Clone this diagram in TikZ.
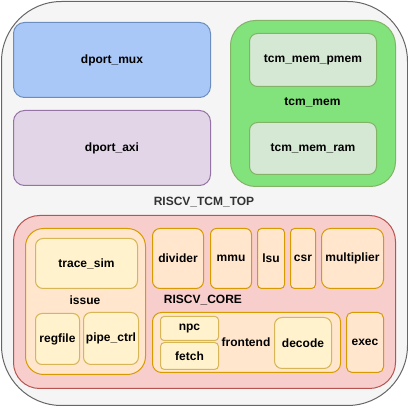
\documentclass[tikz,border=0pt]{standalone}
\usepackage{fontspec}
\setmainfont{Liberation Sans}
\definecolor{topfill}{HTML}{F5F5F5}
\definecolor{topline}{HTML}{666666}
\definecolor{toptext}{HTML}{333333}
\definecolor{muxfill}{HTML}{A9C8F8}
\definecolor{muxline}{HTML}{6C8EBF}
\definecolor{axifill}{HTML}{E1D5E7}
\definecolor{axiline}{HTML}{9673A6}
\definecolor{memfill}{HTML}{82E37C}
\definecolor{memline}{HTML}{82B366}
\definecolor{subfill}{HTML}{D5E8D4}
\definecolor{corefill}{HTML}{F8CECC}
\definecolor{coreline}{HTML}{B85450}
\definecolor{unitfill}{HTML}{FFE6CC}
\definecolor{unitline}{HTML}{D79B00}
\definecolor{leaffill}{HTML}{FFF2CC}
\definecolor{leafline}{HTML}{D6B656}
\tikzset{
  blk/.style={draw, line width=1pt, inner sep=0pt, anchor=north west, text=black,
    font=\fontsize{12}{14}\selectfont\bfseries},
  unit/.style={blk, fill=unitfill, draw=unitline},
  leaf/.style={blk, fill=leaffill, draw=leafline},
  lbl/.style={inner sep=0pt, font=\fontsize{12}{14}\selectfont\bfseries},
}
\begin{document}
\begin{tikzpicture}[x=1pt, y=-1pt]
    \useasboundingbox (0,0) rectangle (408,406);

    % top level wrapper
    \node[blk, fill=topfill, draw=topline, rounded corners=60pt, minimum width=406pt, minimum height=404pt] (top) at (1,1) {};
    \node[lbl, text=toptext] (toplbl) at (204,202) {RISCV\_TCM\_TOP};

    % data port blocks
    \node[blk, fill=muxfill, draw=muxline, rounded corners=11pt, minimum width=197pt, minimum height=75pt] (mux) at (13,22) {dport\_mux};
    \node[blk, fill=axifill, draw=axiline, rounded corners=11pt, minimum width=197pt, minimum height=75pt] (axi) at (13,110) {dport\_axi};

    % tcm memory
    \node[blk, fill=memfill, draw=memline, rounded corners=25pt, minimum width=165pt, minimum height=166pt] (mem) at (230,20) {};
    \node[lbl] (memlbl) at (312.5,102) {tcm\_mem};
    \node[blk, fill=subfill, draw=memline, rounded corners=8pt, minimum width=127pt, minimum height=53pt] (pmem) at (249,33) {tcm\_mem\_pmem};
    \node[blk, fill=subfill, draw=memline, rounded corners=8pt, minimum width=127pt, minimum height=52pt] (ram) at (249,122) {tcm\_mem\_ram};

    % the core
    \node[blk, fill=corefill, draw=coreline, rounded corners=26pt, minimum width=382pt, minimum height=173pt] (core) at (13,215) {};
    \node[lbl] (corelbl) at (203,300) {RISCV\_CORE};

    % issue stage
    \node[unit, rounded corners=18pt, minimum width=120pt, minimum height=146pt] (issue) at (25,228) {};
    \node[lbl] (issuelbl) at (85,300) {issue};
    \node[leaf, rounded corners=7.5pt, minimum width=102pt, minimum height=50pt] (trace) at (35,238) {trace\_sim};
    \node[leaf, rounded corners=6.5pt, minimum width=44pt, minimum height=51pt] (regfile) at (35,313) {regfile};
    \node[leaf, rounded corners=7.5pt, minimum width=55pt, minimum height=52pt] (pipe) at (83,312) {pipe\_ctrl};

    % execution units
    \node[unit, rounded corners=7.5pt, minimum width=51pt, minimum height=60pt] (div) at (152,228) {divider};
    \node[unit, rounded corners=6pt, minimum width=41pt, minimum height=60pt] (mmu) at (210,228) {mmu};
    \node[unit, rounded corners=4pt, minimum width=27pt, minimum height=60pt] (lsu) at (257,228) {lsu};
    \node[unit, rounded corners=4pt, minimum width=25pt, minimum height=60pt] (csr) at (290,228) {csr};
    \node[unit, rounded corners=9pt, minimum width=62pt, minimum height=60pt] (mul) at (321,228) {multiplier};

    % frontend
    \node[unit, rounded corners=9pt, minimum width=188pt, minimum height=60pt] (front) at (152,312) {};
    \node[lbl] (frontlbl) at (246,342) {frontend};
    \node[leaf, rounded corners=3.5pt, minimum width=58pt, minimum height=24pt] (npc) at (160,316) {npc};
    \node[leaf, rounded corners=4pt, minimum width=58pt, minimum height=27pt] (fetch) at (160,342) {fetch};
    \node[leaf, rounded corners=7.5pt, minimum width=57pt, minimum height=51pt] (decode) at (274,317) {decode};

    \node[unit, rounded corners=5.5pt, minimum width=37pt, minimum height=60pt] (exec) at (346,312) {exec};

\end{tikzpicture}
\end{document}
